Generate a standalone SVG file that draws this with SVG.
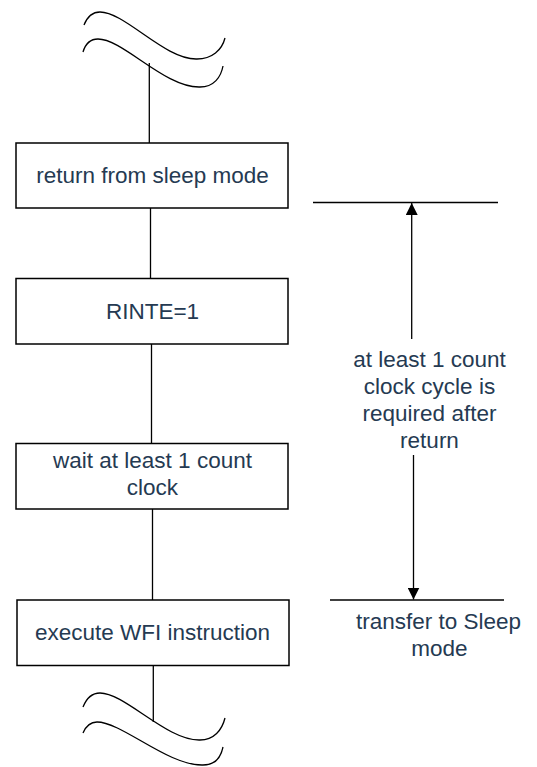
<svg xmlns="http://www.w3.org/2000/svg" width="537" height="767" viewBox="0 0 537 767">
<style>
.box{fill:#fff;stroke:#000;stroke-width:1.5}
.ln{fill:none;stroke:#000;stroke-width:1.3}
.t{font-family:"Liberation Sans",Arial,sans-serif;font-size:22.5px;fill:#253a52;text-anchor:middle}
</style>
<defs>
<marker id="ah" viewBox="0 0 12 12" refX="12" refY="6" markerWidth="12" markerHeight="12" markerUnits="userSpaceOnUse" orient="auto">
<path d="M0,0 L12,6 L0,12 Z" fill="#000"/>
</marker>
</defs>
<g id="connectors">
<path class="ln" d="M84,25 C88,15 94,12 100,12 C125,12 165,60 197,59 C212,59 222,50 225,38"/>
<path class="ln" d="M83,52 C86,42 92,39 98,39 C123,39 165,88 200,87 C214,87 221,77 223,66"/>
<line class="ln" x1="149.3" y1="63" x2="149.3" y2="143"/>
<line class="ln" x1="150.5" y1="208" x2="150.5" y2="278"/>
<line class="ln" x1="151.5" y1="344" x2="151.5" y2="443"/>
<line class="ln" x1="152.5" y1="509" x2="152.5" y2="600"/>
<line class="ln" x1="153.3" y1="666" x2="153.3" y2="722"/>
<path class="ln" d="M83,707 C87,697 93,693 100,693 C125,693 167,741 200,740 C214,740 222,730 225,718"/>
<path class="ln" d="M83,733 C86,726 91,722 97,722 C122,722 168,766 203,765 C215,765 221,757 223,747"/>
<line class="ln" x1="313" y1="202.5" x2="498" y2="202.5"/>
<line class="ln" x1="330" y1="600" x2="504" y2="600"/>
<line class="ln" x1="411.7" y1="339" x2="411.7" y2="203" marker-end="url(#ah)"/>
<line class="ln" x1="413.5" y1="455" x2="413.5" y2="599.5" marker-end="url(#ah)"/>
</g>
<g id="n1"><rect class="box" x="16" y="143" width="272" height="65"/><text class="t" x="152.5" y="183">return from sleep mode</text></g>
<g id="n2"><rect class="box" x="16" y="278.5" width="272" height="65.5"/><text class="t" x="152.5" y="318.5">RINTE=1</text></g>
<g id="n3"><rect class="box" x="16" y="443.5" width="272" height="65.5"/><text class="t" x="152.5" y="468">wait at least 1 count</text><text class="t" x="152.5" y="495">clock</text></g>
<g id="n4"><rect class="box" x="17" y="600" width="272" height="65.5"/><text class="t" x="152.5" y="640">execute WFI instruction</text></g>
<g id="label1"><text class="t" x="429.5" y="367">at least 1 count</text><text class="t" x="429.5" y="394">clock cycle is</text><text class="t" x="429.5" y="421">required after</text><text class="t" x="429.5" y="448">return</text></g>
<g id="label2"><text class="t" x="438.5" y="629">transfer to Sleep</text><text class="t" x="439.5" y="656">mode</text></g>
</svg>
